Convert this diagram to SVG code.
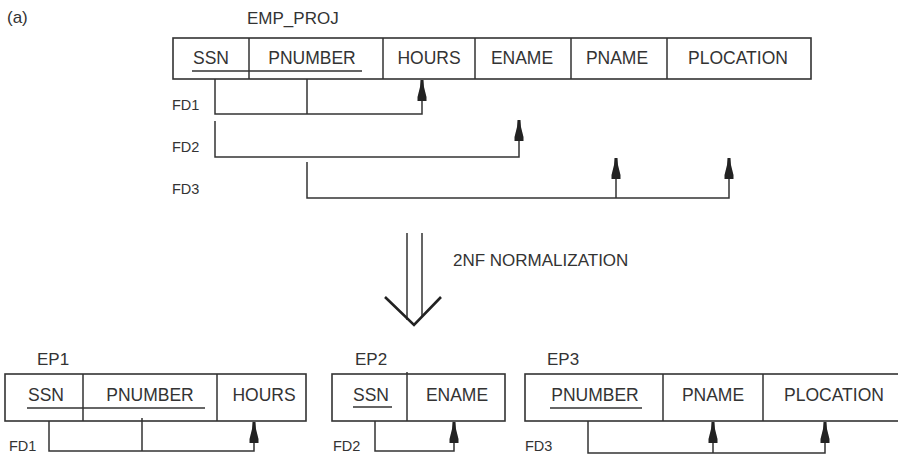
<svg xmlns="http://www.w3.org/2000/svg" width="898" height="455" viewBox="0 0 898 455">
<defs>
<style>
.t{font-family:"Liberation Sans",Arial,sans-serif;font-size:17.5px;fill:#333;text-anchor:middle}
.l{font-family:"Liberation Sans",Arial,sans-serif;font-size:17px;fill:#333}
.fd{font-family:"Liberation Sans",Arial,sans-serif;font-size:14.5px;fill:#333}
.box{fill:#fff;stroke:#333;stroke-width:1.6}
.ln{fill:none;stroke:#333;stroke-width:1.5}
.ul{fill:none;stroke:#333;stroke-width:1.4}
</style>
<path id="ah" d="M-1.5,0 L1.5,0 L2,7 L4.5,17 L4.5,21 L-4.5,21 L-4.5,17 L-2,7 Z" fill="#222"/>
</defs>
<rect width="898" height="455" fill="#fff"/>
<text class="l" x="7" y="23" font-size="18">(a)</text>

<g id="emp_proj">
<text class="l" x="247" y="24">EMP_PROJ</text>
<rect class="box" x="173" y="38" width="638" height="41"/>
<path class="ln" d="M249,38V79M383,38V79M475,38V79M571,38V79M667,38V79"/>
<text class="t" x="211" y="64">SSN</text>
<text class="t" x="312" y="64">PNUMBER</text>
<text class="t" x="429" y="64">HOURS</text>
<text class="t" x="522" y="64">ENAME</text>
<text class="t" x="617" y="64">PNAME</text>
<text class="t" x="738" y="64">PLOCATION</text>
<path class="ul" d="M192,71H362"/>
</g>

<g id="big_arrow">
<path class="ln" d="M407,233V320M422,233V316"/>
<path fill="none" stroke="#222" stroke-width="2.6" d="M385,297L414,325L441,297"/>
<text class="l" x="453" y="266">2NF NORMALIZATION</text>
</g>

<g id="ep1">
<text class="l" x="37" y="365">EP1</text>
<rect class="box" x="5" y="374" width="301" height="47"/>
<path class="ln" d="M83,374V421M217,374V421"/>
<text class="t" x="46" y="401">SSN</text>
<text class="t" x="150" y="401">PNUMBER</text>
<text class="t" x="264" y="401">HOURS</text>
<path class="ul" d="M27,408H205"/>
</g>

<g id="ep2">
<text class="l" x="355" y="365">EP2</text>
<rect class="box" x="332" y="374" width="173" height="47"/>
<path class="ln" d="M407,372V421"/>
<text class="t" x="371" y="401">SSN</text>
<text class="t" x="457" y="401">ENAME</text>
<path class="ul" d="M353,407H392"/>
</g>

<g id="ep3">
<text class="l" x="547" y="365">EP3</text>
<rect class="box" x="525" y="374" width="380" height="47"/>
<path class="ln" d="M663,374V421M763,374V421"/>
<text class="t" x="595" y="401">PNUMBER</text>
<text class="t" x="713" y="401">PNAME</text>
<text class="t" x="834" y="401">PLOCATION</text>
<path class="ul" d="M550,408H642"/>
</g>

<g id="fd_labels">
<text class="fd" x="172" y="110">FD1</text>
<text class="fd" x="172" y="152">FD2</text>
<text class="fd" x="172" y="194">FD3</text>
<text class="fd" x="9" y="451">FD1</text>
<text class="fd" x="333" y="451">FD2</text>
<text class="fd" x="525" y="451">FD3</text>
</g>

<g id="connectors">
<path class="ln" d="M215,79V114H422V90M307,79V114"/>
<use href="#ah" x="422" y="80"/>
<path class="ln" d="M215,121V157H519V130"/>
<use href="#ah" x="519" y="120"/>
<path class="ln" d="M307,162V198H729V168M616,198V168"/>
<use href="#ah" x="616" y="158"/>
<use href="#ah" x="729" y="158"/>
<path class="ln" d="M49,421V451H254V432M142,418V451"/>
<use href="#ah" x="254" y="422"/>
<path class="ln" d="M375,421V451H454V432"/>
<use href="#ah" x="454" y="422"/>
<path class="ln" d="M588,421V453H825V432M713,453V432"/>
<use href="#ah" x="713" y="422"/>
<use href="#ah" x="825" y="422"/>
</g>
</svg>
